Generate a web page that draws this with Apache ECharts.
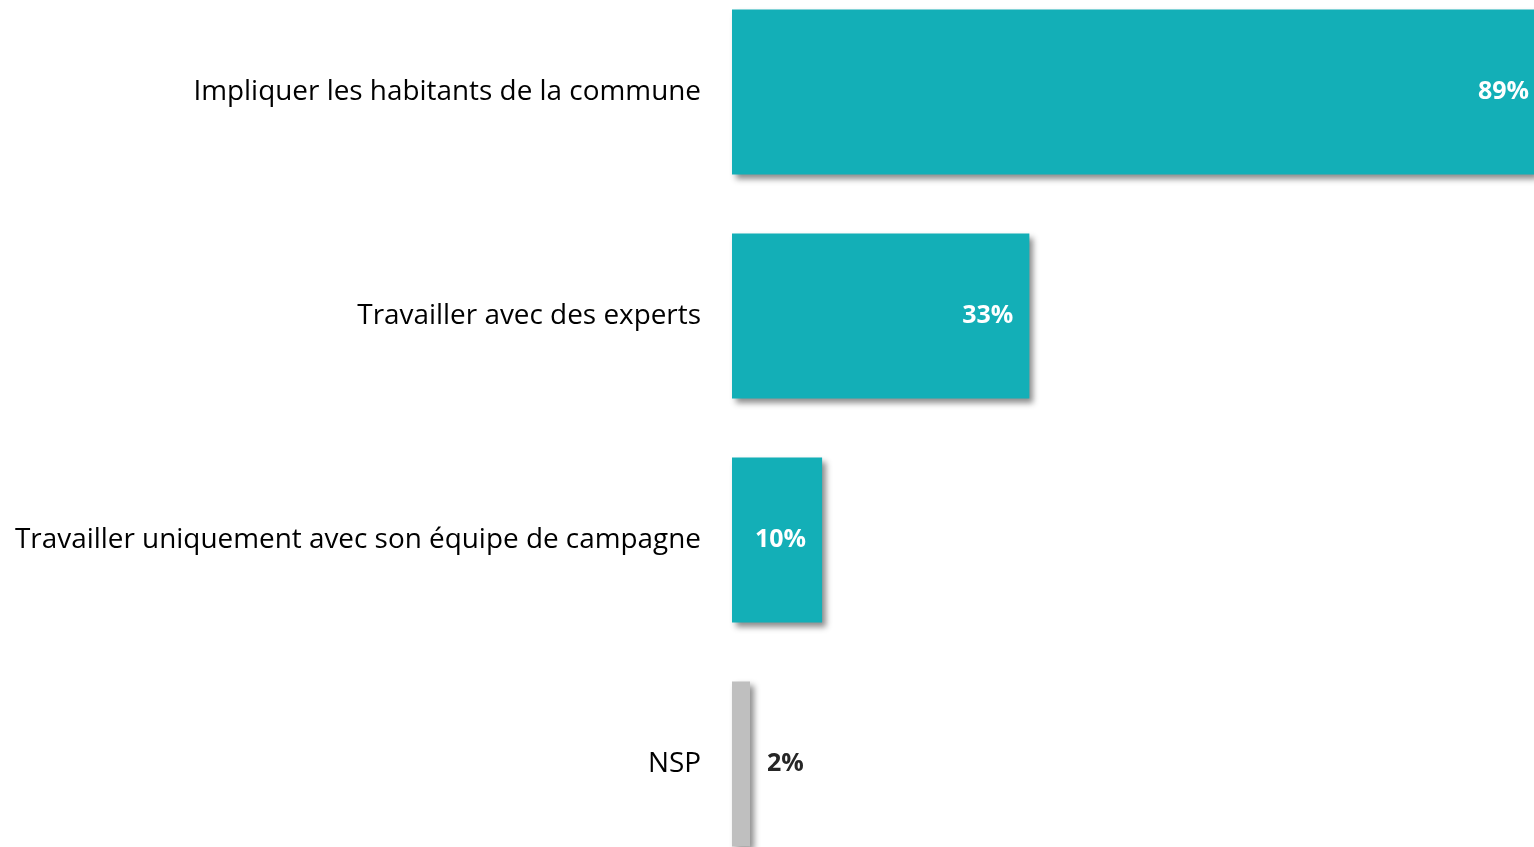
<!DOCTYPE html>
<html>
<head>
<meta charset="utf-8">
<script src="https://cdn.jsdelivr.net/npm/echarts@6/dist/echarts.min.js"></script>
<style>
  html, body { margin: 0; padding: 0; background: #fff; overflow: hidden; }
  /* zone un peu plus haute que la fenêtre : la première et la dernière bande sont coupées */
  #chart { position: absolute; left: 0; top: -20px; width: 1534px; height: 896px; }
</style>
</head>
<body>
<div id="chart"></div>
<script>
var categories = ['Impliquer les habitants de la commune', 'Travailler avec des experts', 'Travailler uniquement avec son équipe de campagne', 'NSP'];
var values = [89, 33, 10, 2];
var barColors = ['#13AFB7', '#13AFB7', '#13AFB7', '#BFBFBF'];

var font = 'Open Sans';
var myChart = echarts.init(document.getElementById('chart'));

var data = values.map(function (v, i) {
    var item = { value: v, itemStyle: { color: barColors[i] } };
    if (i == values.length - 1) {
        // NSP : label à l'extérieur, en gris foncé
        item.label = { position: 'right', distance: 17, color: '#262626' };
    } else if (i == 0) {
        item.label = { distance: 5 };
    }
    return item;
});

var option = {
    animation: false,
    grid: { left: 732, right: 0, top: 0, bottom: 0, containLabel: false },
    xAxis: {
        type: 'value',
        min: 0,
        max: 89,
        show: false
    },
    yAxis: {
        type: 'category',
        inverse: true,
        data: categories,
        axisLine: { show: false },
        axisTick: { show: false },
        axisLabel: {
            margin: 31,
            fontSize: 27.9,
            fontFamily: font,
            color: '#000'
        }
    },
    series: [{
        type: 'bar',
        barWidth: 165,
        clip: false,
        data: data,
        itemStyle: {
            shadowColor: 'rgba(0,0,0,0.45)',
            shadowBlur: 6,
            shadowOffsetX: 4,
            shadowOffsetY: 4
        },
        label: {
            show: true,
            position: 'insideRight',
            distance: 16,
            formatter: '{c}%',
            fontSize: 25,
            fontWeight: 'bold',
            fontFamily: font,
            color: '#fff'
        }
    }]
};

myChart.setOption(option);
</script>
</body>
</html>
